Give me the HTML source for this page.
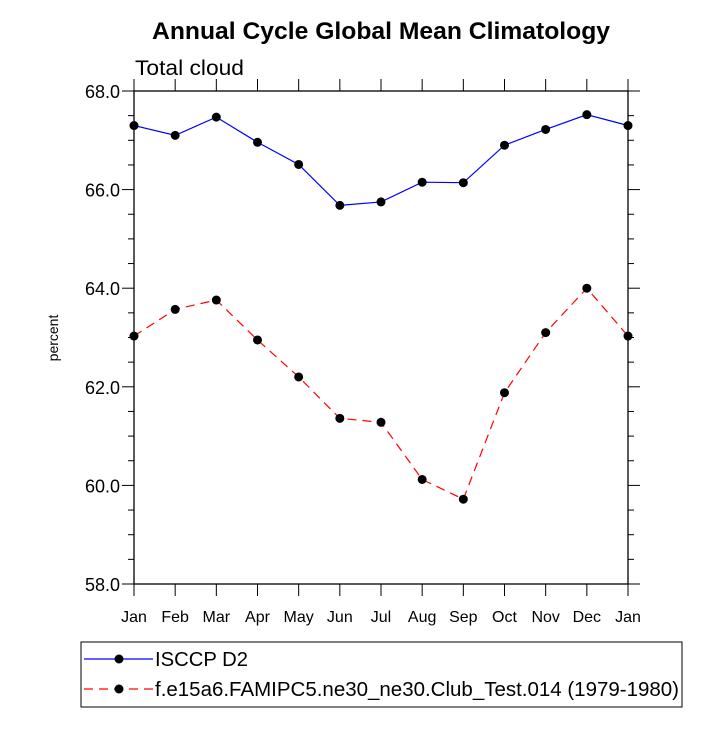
<!DOCTYPE html>
<html><head><meta charset="utf-8"><style>
body{margin:0;background:#fff}
text{font-family:"Liberation Sans",sans-serif}
</style></head><body>
<svg id="c" width="727" height="727" xmlns="http://www.w3.org/2000/svg">
<rect width="727" height="727" fill="#fff"/>
<text x="152" y="39" textLength="458" lengthAdjust="spacingAndGlyphs" font-size="24" font-weight="bold">Annual Cycle Global Mean Climatology</text>
<text x="135" y="75" textLength="109" lengthAdjust="spacingAndGlyphs" font-size="21">Total cloud</text>
<text transform="translate(58,338) rotate(-90)" text-anchor="middle" font-size="14">percent</text>
<g id="axes"></g>
<g id="series"></g>
<rect x="81" y="642" width="601" height="65" fill="none" stroke="#000" stroke-width="1"/>
<g>
<line x1="84" y1="659" x2="153" y2="659" stroke="#0000ff" stroke-width="1.2"/>
<circle cx="119" cy="659" r="4.5" fill="#000"/>
<text x="155" y="666" font-size="20" textLength="93" lengthAdjust="spacingAndGlyphs">ISCCP D2</text></g>
<g>
<line x1="84" y1="689" x2="153" y2="689" stroke="#ff0000" stroke-width="1.2" stroke-dasharray="9,6"/>
<circle cx="119" cy="689" r="4.5" fill="#000"/>
<text x="155" y="696" font-size="20" textLength="524" lengthAdjust="spacingAndGlyphs">f.e15a6.FAMIPC5.ne30_ne30.Club_Test.014 (1979-1980)</text></g>
</svg>
<script>
const months=["Jan","Feb","Mar","Apr","May","Jun","Jul","Aug","Sep","Oct","Nov","Dec","Jan"];
const isccp=[67.3,67.1,67.47,66.96,66.51,65.68,65.75,66.15,66.14,66.9,67.22,67.52,67.3];
const model=[63.03,63.57,63.76,62.95,62.2,61.36,61.28,60.12,59.72,61.88,63.1,64.0,63.03];
const yTicks=[58,60,62,64,66,68];
const X0=134,X1=628,Y0=584,Y1=91,ymin=58,ymax=68;
const NS="http://www.w3.org/2000/svg";
const xs=i=>X0+(X1-X0)*i/(months.length-1);
const ys=v=>Y0-(v-ymin)/(ymax-ymin)*(Y0-Y1);
function mk(t,a,p){const e=document.createElementNS(NS,t);for(const k in a)e.setAttribute(k,a[k]);p.appendChild(e);return e;}
const ax=document.getElementById('axes');
const fr=mk('rect',{x:X0,y:Y1,width:X1-X0,height:Y0-Y1,fill:'none',stroke:'#000','stroke-width':1.3},ax);


months.forEach((m,i)=>{const x=xs(i);
mk('line',{x1:x,y1:Y0,x2:x,y2:Y0+12,stroke:'#000','stroke-width':1},ax);
mk('line',{x1:x,y1:Y1,x2:x,y2:Y1-12,stroke:'#000','stroke-width':1},ax);
const t=mk('text',{x:x,y:Y0+38,'text-anchor':'middle','font-size':16},ax);t.textContent=m;

});
for(let v=ymin;v<=ymax+1e-9;v+=0.5){const y=ys(v);const maj=Math.abs(v/2-Math.round(v/2))<1e-6;const L=maj?12:6;
mk('line',{x1:X0-L,y1:y,x2:X0,y2:y,stroke:'#000','stroke-width':1},ax);
mk('line',{x1:X1,y1:y,x2:X1+L,y2:y,stroke:'#000','stroke-width':1},ax);}
yTicks.forEach(v=>{const t=mk('text',{x:X0-14,y:ys(v)+7,'text-anchor':'end','font-size':18},ax);t.textContent=v.toFixed(1);

});
const sg=document.getElementById('series');
function series(d,col,dash,name){
const g=mk('g',{},sg);


mk('polyline',{points:d.map((v,i)=>xs(i)+','+ys(v)).join(' '),fill:'none',stroke:col,'stroke-width':1.2,'stroke-dasharray':dash},g);
d.forEach((v,i)=>{const c=mk('circle',{cx:xs(i),cy:ys(v),r:4.5,fill:'#000'},g);

});}
series(isccp,'#0000ff','none','isccp-series');
series(model,'#ff0000','9,6','model-series');
</script>
</body></html>
